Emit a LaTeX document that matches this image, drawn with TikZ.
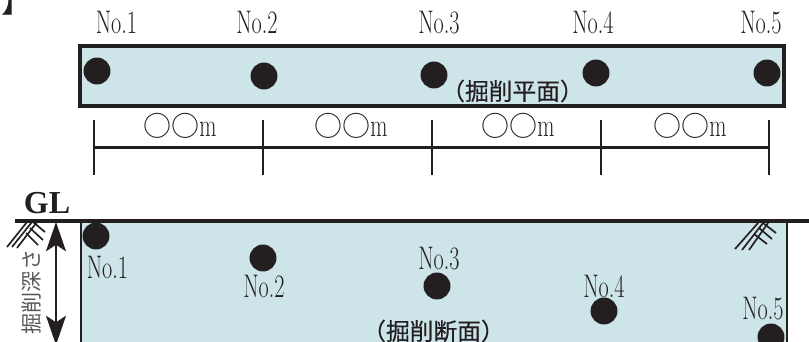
\documentclass[tikz,border=0pt]{standalone}
\usepackage{fontspec}
\usetikzlibrary{arrows.meta}
\newfontfamily\lab[FakeStretch=0.68]{Latin Modern Roman}
\newfontfamily\glb{Liberation Serif}
\newfontfamily\cjk{Noto Sans CJK JP}
\newfontfamily\cjkb[FakeBold=0.2]{Noto Sans CJK JP}
\definecolor{ink}{HTML}{231F20}
\definecolor{pale}{HTML}{CDE4E9}
\tikzset{
  x=0.75pt,y=-0.75pt,
  boxfill/.style={fill=pale,draw=none},
  dot/.style={circle,fill=ink,draw=none,inner sep=0pt,minimum width=20.2pt,minimum height=20.2pt},
  lbl/.style={inner sep=0pt,yshift=1.3pt,text=ink,font=\fontsize{24.5pt}{26pt}\selectfont\lab},
  dimtxt/.style={inner sep=0pt,text=ink,font=\fontsize{21pt}{22pt}\selectfont},
  captxt/.style={inner sep=0pt,text=ink,font=\fontsize{17.8pt}{20pt}\selectfont\cjkb},
  thick line/.style={draw=ink,line width=3pt},
  thin line/.style={draw=ink,line width=1.5pt},
  hatch/.style={draw=ink,line width=1.25pt},
  bighead/.tip={Stealth[length=22pt,width=15pt,inset=5pt]},
}
\begin{document}
\begin{tikzpicture}
\useasboundingbox (0,0) rectangle (809,342);
\clip (0,0) rectangle (809,342);
% corner bracket
\node[inner sep=0pt,text=ink,font=\fontsize{24pt}{24pt}\selectfont\cjk] (brk) at (18,0) {】};
% plan
\node[boxfill,thick line,draw=ink,minimum width=528pt,minimum height=44.8pt,inner sep=0pt] (plan) at (431.6,75.8) {};
\node[dot] (p1) at (97,71) {};
\node[dot] (p2) at (264,76) {};
\node[dot] (p3) at (434,75) {};
\node[dot] (p4) at (596,73) {};
\node[dot] (p5) at (767,73) {};
\node[lbl] (n1) at (116.5,24) {No.1};
\node[lbl] (n2) at (257,24) {No.2};
\node[lbl] (n3) at (439,24) {No.3};
\node[lbl] (n4) at (593,24) {No.4};
\node[lbl] (n5) at (761,24) {No.5};
\node[captxt] (plancap) at (512.5,91) {（掘削平面）};
% dimensions
\foreach \n/\x in {a/94,b/262.7,c/431.7,d/600.7,e/769}{
  \coordinate (\n t) at (\x,120);
  \coordinate (\n m) at (\x,147.5);
  \coordinate (\n b) at (\x,175);
  \draw[thin line] (\n t) -- (\n b);
}
\draw[thin line] (am) -- (em);
\foreach \n/\x in {1/180,2/351,3/518,4/690}{
  \node[dimtxt] (d\n) at (\x,126) {{\cjk ○○}{\fontsize{24.5pt}{26pt}\selectfont\lab m}};
}
% section
\fill[pale] (81,222) rectangle (787,342);
\coordinate (gl0) at (15,220.5);
\coordinate (gl1) at (809,220.5);
\coordinate (lw0) at (81,222);
\coordinate (lw1) at (81,342);
\coordinate (rw0) at (787,222);
\coordinate (rw1) at (787,342);
\draw[thin line] (lw0) -- (lw1);
\draw[thin line] (rw0) -- (rw1);
\draw[thick line] (gl0) -- (gl1);
\node[inner sep=0pt,text=ink,font=\fontsize{24pt}{24pt}\selectfont\glb\bfseries] (gl) at (47,203) {GL};
\node[dot] (s1) at (96,236) {};
\node[dot] (s2) at (263,258) {};
\node[dot] (s3) at (437,286) {};
\node[dot] (s4) at (604,311) {};
\node[dot] (s5) at (771,337) {};
\node[lbl] (m1) at (107.5,269) {No.1};
\node[lbl] (m2) at (264,288) {No.2};
\node[lbl] (m3) at (439,260) {No.3};
\node[lbl] (m4) at (604,288) {No.4};
\node[lbl] (m5) at (763,310) {No.5};
\node[captxt] (seccap) at (433.5,331) {（掘削断面）};
% depth arrow
\coordinate (a0) at (56,222);
\coordinate (a1) at (56,345);
\draw[draw=ink,line width=1.5pt,bighead-bighead] (a0) -- (a1);
\node[rotate=90,inner sep=0pt,text=ink!75,font=\fontsize{15.8pt}{16pt}\selectfont\cjk] (depth) at (32,292) {掘削深さ};
% ground hatch left
\draw[hatch] (7,247) -- (27,222) (12,247) -- (32,222) (17,248) -- (37,222);
\draw[hatch] (33,222) -- (45,232) (30,228) -- (43,240) (26,233) -- (38,245);
% ground hatch right
\draw[hatch] (735,249) -- (758,223) (742,250) -- (763,223) (749,250) -- (768,223);
\draw[hatch] (763,223) -- (776,233) (759,228) -- (772,239) (754,234) -- (767,244);
\end{tikzpicture}
\end{document}
